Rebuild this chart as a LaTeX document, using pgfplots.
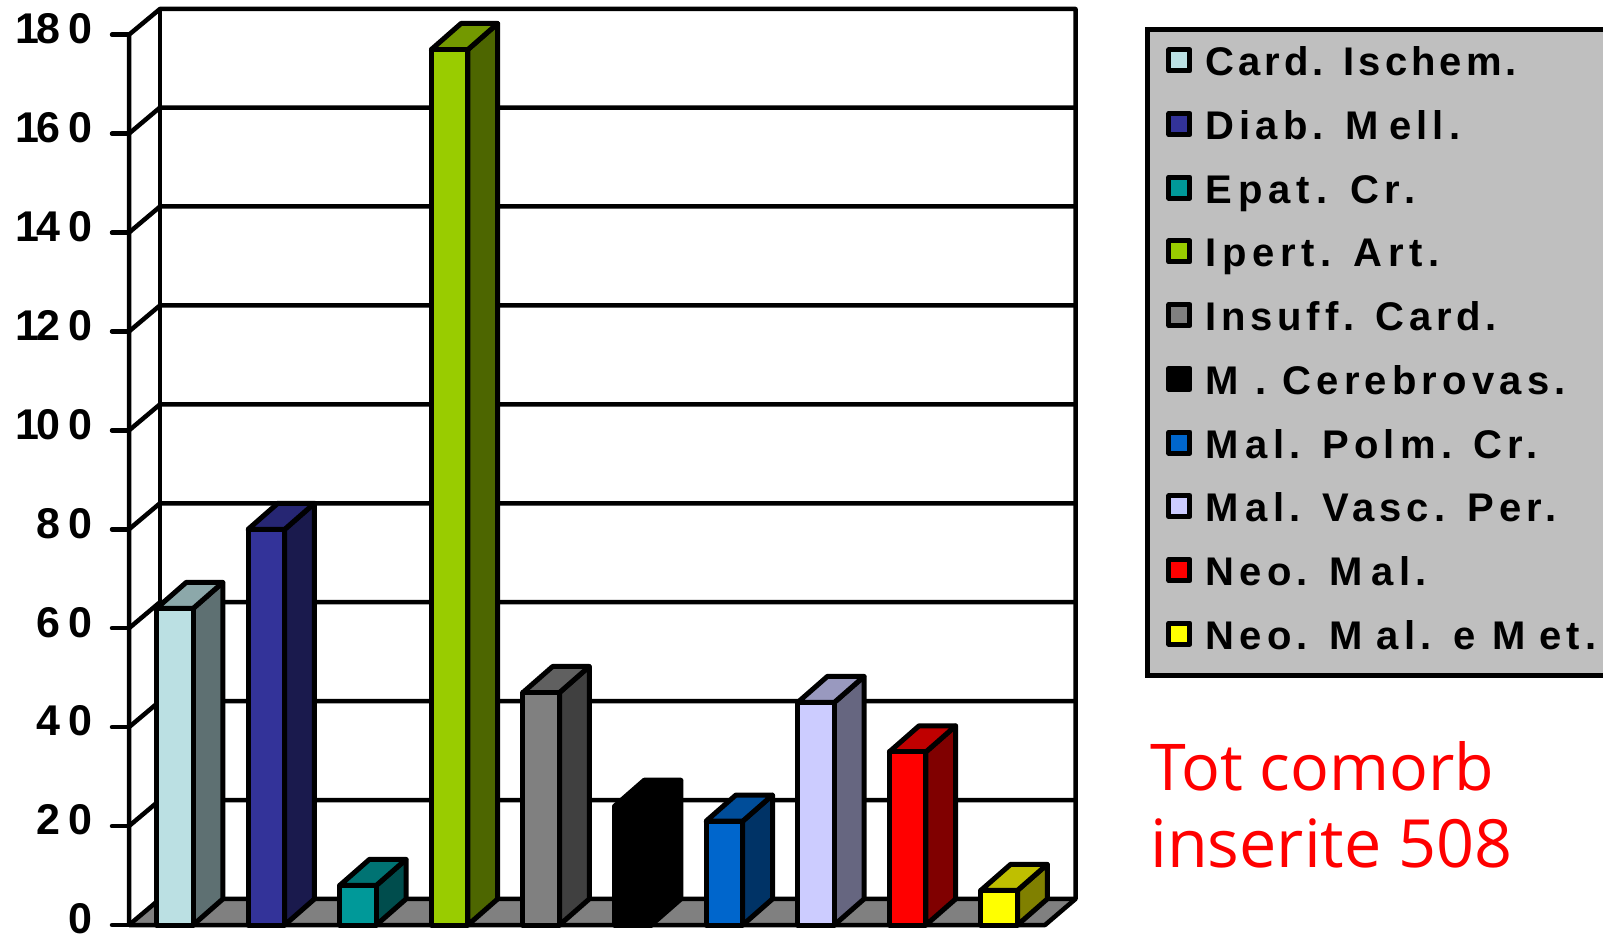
\documentclass[border=0pt]{standalone}
\usepackage{pgfplots}
\usepackage{fontspec}
\pgfplotsset{compat=1.18}
\setmainfont{Liberation Sans}
\newfontfamily\legfont[LetterSpace=13]{Liberation Sans}
\newfontfamily\tickfont[LetterSpace=20]{Liberation Sans}
\newfontfamily\notefont{Open Sans}
\definecolor{c1}{HTML}{BBE0E3}\definecolor{t1}{HTML}{8CA8AA}\definecolor{s1}{HTML}{5E7072}
\definecolor{c2}{HTML}{333399}\definecolor{t2}{HTML}{262673}\definecolor{s2}{HTML}{1A1A4D}
\definecolor{c3}{HTML}{009999}\definecolor{t3}{HTML}{007373}\definecolor{s3}{HTML}{004D4D}
\definecolor{c4}{HTML}{99CC00}\definecolor{t4}{HTML}{739900}\definecolor{s4}{HTML}{4D6600}
\definecolor{c5}{HTML}{808080}\definecolor{t5}{HTML}{606060}\definecolor{s5}{HTML}{404040}
\definecolor{c6}{HTML}{000000}\definecolor{t6}{HTML}{000000}\definecolor{s6}{HTML}{000000}
\definecolor{c7}{HTML}{0066CC}\definecolor{t7}{HTML}{004D99}\definecolor{s7}{HTML}{003366}
\definecolor{c8}{HTML}{CCCCFF}\definecolor{t8}{HTML}{9999BF}\definecolor{s8}{HTML}{666680}
\definecolor{c9}{HTML}{FF0000}\definecolor{t9}{HTML}{BF0000}\definecolor{s9}{HTML}{800000}
\definecolor{c10}{HTML}{FFFF00}\definecolor{t10}{HTML}{BFBF00}\definecolor{s10}{HTML}{808000}
\newcommand\bardd[3]{% position, value, colour index
  \pgfmathsetmacro\xa{#1-0.2}\pgfmathsetmacro\xb{#1+0.2}
  \pgfmathsetmacro\xc{#1+0.2+0.325}\pgfmathsetmacro\xd{#1-0.2+0.325}
  \pgfmathsetmacro\yt{#2+5.27}
  \addplot[forget plot,draw=black,line width=5pt,line join=round,fill=s#3] coordinates {(\xb,0) (\xc,5.27) (\xc,\yt) (\xb,#2)} -- cycle;
  \addplot[forget plot,draw=black,line width=5pt,line join=round,fill=t#3] coordinates {(\xa,#2) (\xb,#2) (\xc,\yt) (\xd,\yt)} -- cycle;
  \addplot[ybar,bar shift=0pt,bar width=36.6pt,draw=black,line width=5pt,line join=round,fill=c#3,
    legend image code/.code={\draw[draw=black,line width=5pt,line join=round,fill=c#3] (2.5pt,-5pt) rectangle (23.5pt,16pt);}]
    coordinates {(#1,#2)};
}
\begin{document}
\begin{tikzpicture}[x=1pt,y=1pt]
\useasboundingbox (0,0) rectangle (1603,935);
\begin{axis}[
  at={(129pt,10pt)},anchor=south west,
  scale only axis,width=946.5pt,height=916pt,
  xmin=-0.5,xmax=9.833,ymin=0,ymax=185.2,
  axis x line=none,axis y line=left,
  y axis line style={draw=none,-},
  clip=false,
  xtick=\empty,ytick={0,20,...,180},
  yticklabels={0,20,40,60,80,1\kern-3pt 00,1\kern-3pt 20,1\kern-3pt 40,1\kern-3pt 60,1\kern-3pt 80},
  tick align=outside,major tick length=17pt,
  y tick style={black,line width=4.5pt,line cap=round},
  yticklabel shift=19pt,
  yticklabel style={inner sep=0pt,yshift=6pt,font=\fontsize{43}{50}\selectfont\bfseries\tickfont},
  legend style={at={(1.0734,0.98)},anchor=north west,fill=black!25,draw=black,line width=5pt,
    inner xsep=19pt,inner ysep=16pt,font=\fontsize{40}{48}\selectfont\bfseries\legfont,
    /tikz/column sep=13pt,/tikz/row sep=23.7pt,
    nodes={inner sep=0pt,text height=30pt,text depth=10pt,line width=0pt,draw=none},
    legend cell align=left},
]
% floor
\addplot[forget plot,draw=none,fill=c5] coordinates {(-0.5,0) (9.5,0) (9.833,5.27) (-0.162,5.27)} -- cycle;
% side wall and back wall
\addplot[forget plot,black,line width=4.5pt,line join=round] coordinates {(-0.5,0) (-0.5,180) (-0.162,185.2) (9.833,185.2) (9.833,5.27) (9.5,0) (-0.5,0)};
\addplot[forget plot,black,line width=4.5pt] coordinates {(-0.162,5.27) (-0.162,185.2)};
\addplot[forget plot,black,line width=4.5pt,line join=round] coordinates {(-0.5,0) (-0.162,5.27) (9.833,5.27)};
\addplot[forget plot,black,line width=4.5pt,line join=round] coordinates {(-0.5,20) (-0.162,25.27) (9.833,25.27)};
\addplot[forget plot,black,line width=4.5pt,line join=round] coordinates {(-0.5,40) (-0.162,45.27) (9.833,45.27)};
\addplot[forget plot,black,line width=4.5pt,line join=round] coordinates {(-0.5,60) (-0.162,65.27) (9.833,65.27)};
\addplot[forget plot,black,line width=4.5pt,line join=round] coordinates {(-0.5,80) (-0.162,85.27) (9.833,85.27)};
\addplot[forget plot,black,line width=4.5pt,line join=round] coordinates {(-0.5,100) (-0.162,105.27) (9.833,105.27)};
\addplot[forget plot,black,line width=4.5pt,line join=round] coordinates {(-0.5,120) (-0.162,125.27) (9.833,125.27)};
\addplot[forget plot,black,line width=4.5pt,line join=round] coordinates {(-0.5,140) (-0.162,145.27) (9.833,145.27)};
\addplot[forget plot,black,line width=4.5pt,line join=round] coordinates {(-0.5,160) (-0.162,165.27) (9.833,165.27)};
\bardd{0}{64}{1}\addlegendentry{\addfontfeature{LetterSpace=10}Card. Ischem.}
\bardd{1}{80}{2}\addlegendentry{Diab. M\kern10pt ell.}
\bardd{2}{8}{3}\addlegendentry{\addfontfeature{LetterSpace=15}Epat. Cr.}
\bardd{3}{177}{4}\addlegendentry{\addfontfeature{LetterSpace=14}Ipert. Art.}
\bardd{4}{47}{5}\addlegendentry{\addfontfeature{LetterSpace=12}Insuff. Card.}
\bardd{5}{24}{6}\addlegendentry{M . Cerebrovas.}
\bardd{6}{21}{7}\addlegendentry{M\kern7pt al. Polm. Cr.}
\bardd{7}{45}{8}\addlegendentry{M\kern7pt al. V\kern3pt asc. Per.}
\bardd{8}{35}{9}\addlegendentry{Neo. M\kern9pt al.}
\bardd{9}{7}{10}\addlegendentry{Neo. M\kern14pt al. e M\kern14pt et.}
\end{axis}
\node[anchor=base west,inner sep=0pt,text=red,font=\fontsize{64.5}{66}\selectfont\notefont] at (1150,145) {Tot comorb};
\node[anchor=base west,inner sep=0pt,text=red,font=\fontsize{66.5}{66}\selectfont\notefont] at (1150,68) {inserite 508};
\end{tikzpicture}
\end{document}
